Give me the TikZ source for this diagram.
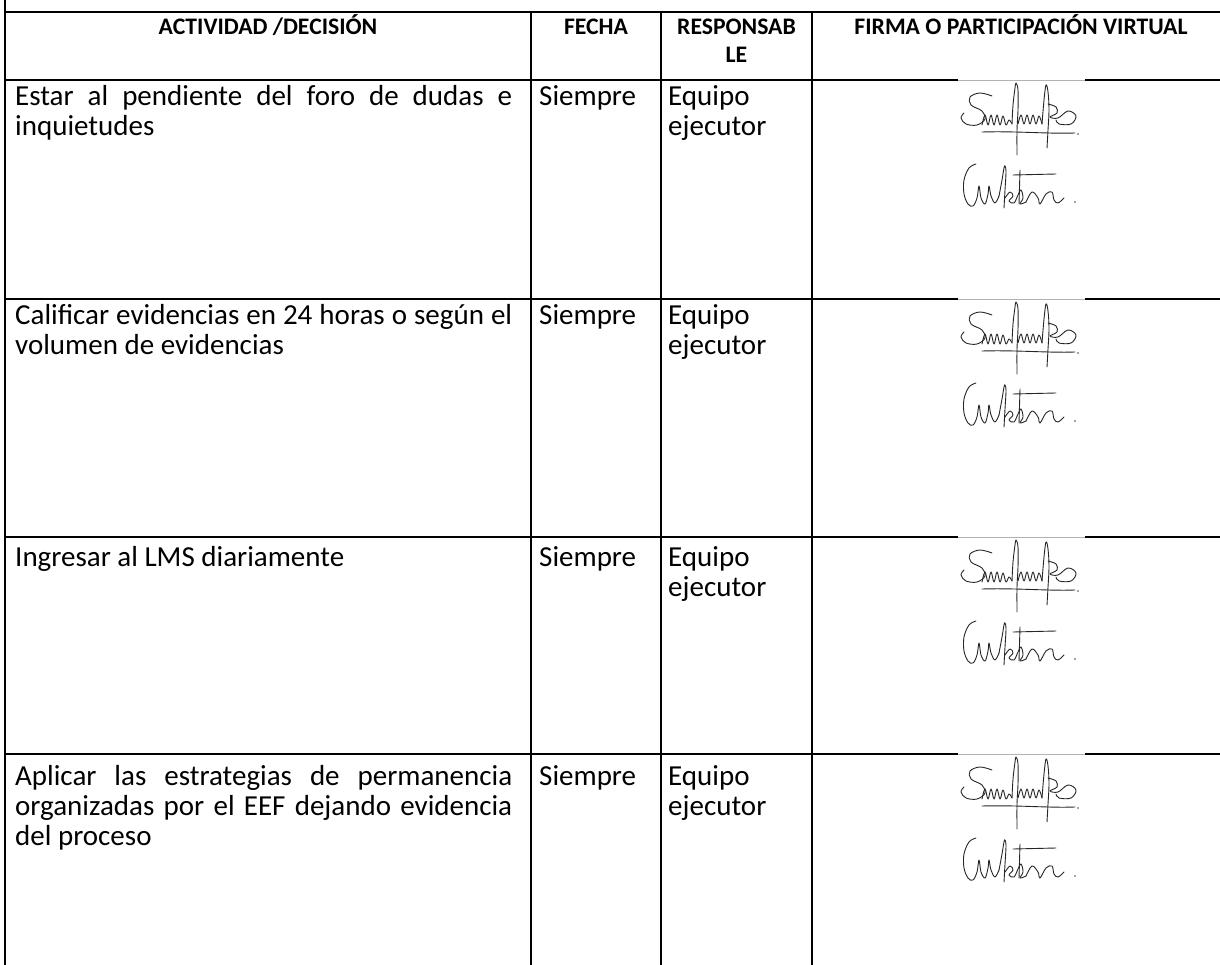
\documentclass[tikz,border=0pt]{standalone}
\usepackage{fontspec}
\setmainfont{Carlito}
\begin{document}
\begin{tikzpicture}[x=1pt,y=-1pt,
  grid/.style={line width=2.2pt},
  body/.style={anchor=base west, inner sep=0pt, font=\fontsize{29}{30}\selectfont},
  head/.style={anchor=base, inner sep=0pt, font=\bfseries\fontsize{23.7}{28}\selectfont},
  ink/.style={line width=0.9pt, black!85, line cap=round, line join=round},
  firmas/.pic={
    \fill[white] (0,-2) rectangle (127,131);
    \draw[black!30, line width=0.4pt] (0,0) -- (127,0);
    % first signature
    \draw[ink] plot[smooth, tension=0.6] coordinates {(34,16) (22,13) (12,17) (13,25) (24,31) (27,39) (19,45) (8,44) (3,38) (6,33)};
    \draw[ink] plot[smooth, tension=0.6] coordinates {(24,45) (27,35) (30,45) (33,35) (36,45) (39,35) (42,45) (45,36) (48,45) (51,40) (54,44)};
    \draw[ink] plot[smooth, tension=0.6] coordinates {(54,44) (55,25) (57,8) (58,3) (60,10) (60,30) (59,50) (59,75)};
    \draw[ink] plot[smooth, tension=0.6] coordinates {(60,44) (63,35) (66,44) (69,35) (72,44) (75,35) (78,44) (81,36) (84,44)};
    \draw[ink] plot[smooth, tension=0.6] coordinates {(84,44) (86,20) (88,5) (90,12) (91,30) (90,50) (89,68)};
    \draw[ink] plot[smooth, tension=0.6] coordinates {(90,24) (98,27) (99,33) (92,37) (100,38) (110,31) (118,36) (113,44) (101,44) (98,40)};
    \draw[ink] (24,52) .. controls (60,51) and (90,54) .. (117,53);
    \fill[black!70] (120,54) circle (0.8);
    % second signature
    \draw[ink] plot[smooth, tension=0.6] coordinates {(18,84) (11,88) (6,100) (6,114) (10,124) (15,126) (19,118) (21,106) (23,118) (27,124) (30,114) (31,106) (33,116) (37,123) (41,116)};
    \draw[ink] plot[smooth, tension=0.6] coordinates {(41,116) (44,100) (46,88) (47,86) (48,92) (47,110) (46,128)};
    \draw[ink] plot[smooth, tension=0.6] coordinates {(47,118) (52,112) (55,116) (51,121) (56,123) (60,115) (63,110) (65,118) (62,124) (68,122)};
    \draw[ink] (55,95) -- (98,94);
    \draw[ink] (62,90) -- (61,124);
    \draw[ink] plot[smooth, tension=0.6] coordinates {(68,122) (74,112) (80,118) (82,124) (88,114) (94,112) (96,120) (100,123) (106,118)};
    \fill[black!70] (117,122) circle (0.9);
  }
]
\useasboundingbox (0,0) rectangle (1220,965);
\fill[white] (0,0) rectangle (1220,965);

% grid
\draw[grid] (5,0) -- (5,965);
\draw[grid] (5,12) -- (1220,12);
\foreach \y in {80,299,537,754} \draw[grid] (5,\y) -- (1220,\y);
\foreach \x in {531,661,812} \draw[grid] (\x,12) -- (\x,965);

% header
\node[head] (h1) at (268,35) {ACTIVIDAD /DECISIÓN};
\node[head] (h2) at (596,35) {FECHA};
\node[head] (h3) at (736.5,35) {RESPONSAB};
\node[head] (h3b) at (736.5,63) {LE};
\node[head] (h4) at (1021,35) {FIRMA O PARTICIPACIÓN VIRTUAL};

% row 1
\node[body] (a1) at (15,106) {\makebox[497pt][s]{Estar al pendiente del foro de dudas e}};
\node[body] (a1b) at (15,136) {inquietudes};
\node[body] (f1) at (539,106) {Siempre};
\node[body] (r1) at (668,106) {Equipo};
\node[body] (r1b) at (668,136) {ejecutor};

% row 2
\node[body] (a2) at (15,325) {\makebox[497pt][s]{Calificar evidencias en 24 horas o según el}};
\node[body] (a2b) at (15,355) {volumen de evidencias};
\node[body] (f2) at (539,325) {Siempre};
\node[body] (r2) at (668,325) {Equipo};
\node[body] (r2b) at (668,355) {ejecutor};

% row 3
\node[body] (a3) at (15,566) {Ingresar al LMS diariamente};
\node[body] (f3) at (539,566) {Siempre};
\node[body] (r3) at (668,566) {Equipo};
\node[body] (r3b) at (668,596) {ejecutor};

% row 4
\node[body] (a4) at (15,785) {\makebox[497pt][s]{Aplicar las estrategias de permanencia}};
\node[body] (a4b) at (15,815) {\makebox[497pt][s]{organizadas por el EEF dejando evidencia}};
\node[body] (a4c) at (15,845) {del proceso};
\node[body] (f4) at (539,785) {Siempre};
\node[body] (r4) at (668,785) {Equipo};
\node[body] (r4b) at (668,815) {ejecutor};

% signatures
\pic at (958,80) {firmas};
\pic at (958,299) {firmas};
\pic at (958,537) {firmas};
\pic at (958,754) {firmas};
\end{tikzpicture}
\end{document}
